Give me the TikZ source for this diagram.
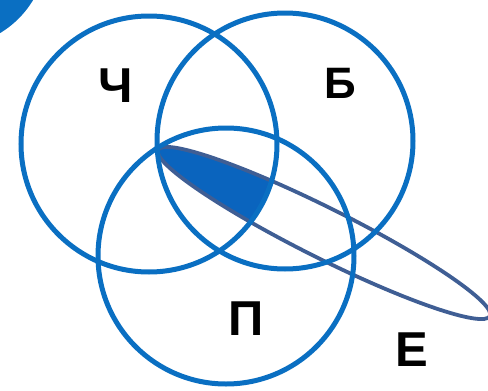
\documentclass[tikz,border=0pt]{standalone}
\usepackage{fontspec}
\setmainfont{Liberation Sans}
\usepackage{tikz}
\definecolor{ringblue}{HTML}{0A6FC2}
\definecolor{leafline}{HTML}{3F5E94}
\definecolor{leafblue}{HTML}{0A64BE}

\begin{document}
\begin{tikzpicture}[
  x=1pt,y=-1pt,
  ring/.style={draw=ringblue,line width=5pt},
  leaf/.style={draw=leafline,line width=3.8pt,rotate around={-26.6:(324,233)}},
  lbl/.style={font=\fontsize{49}{49}\selectfont\bfseries,inner sep=0pt}
]
\useasboundingbox (0,0) rectangle (488,391);
\clip (0,0) rectangle (488,391);
% circle centres
\coordinate (cCh) at (149,144);
\coordinate (cB) at (285,141);
\coordinate (cP) at (226,256);
\coordinate (cE) at (324,233);
% corner blob
\fill[ringblue] (-50,-50) circle (97pt);
% shaded part of the leaf
\begin{scope}
  \clip (cCh) circle (128pt);
  \clip (cB) circle (128pt);
  \clip (cP) circle (128pt);
  \fill[leafblue,rotate around={-26.6:(324,233)}] (cE) ellipse (185.6pt and 25pt);
\end{scope}
\draw[leaf] (cE) ellipse (185.6pt and 25pt);
\draw[ring] (cCh) circle (128pt);
\draw[ring] (cB) circle (128pt);
\draw[ring] (cP) circle (128pt);
% labels
\node[lbl] (lblCh) at (116,86) {Ч};
\node[lbl,font=\fontsize{44}{44}\selectfont\bfseries] (lblB) at (340,83) {Б};
\node[lbl] (lblP) at (246,319) {П};
\node[lbl] (lblE) at (412,350) {Е};
\end{tikzpicture}
\end{document}
